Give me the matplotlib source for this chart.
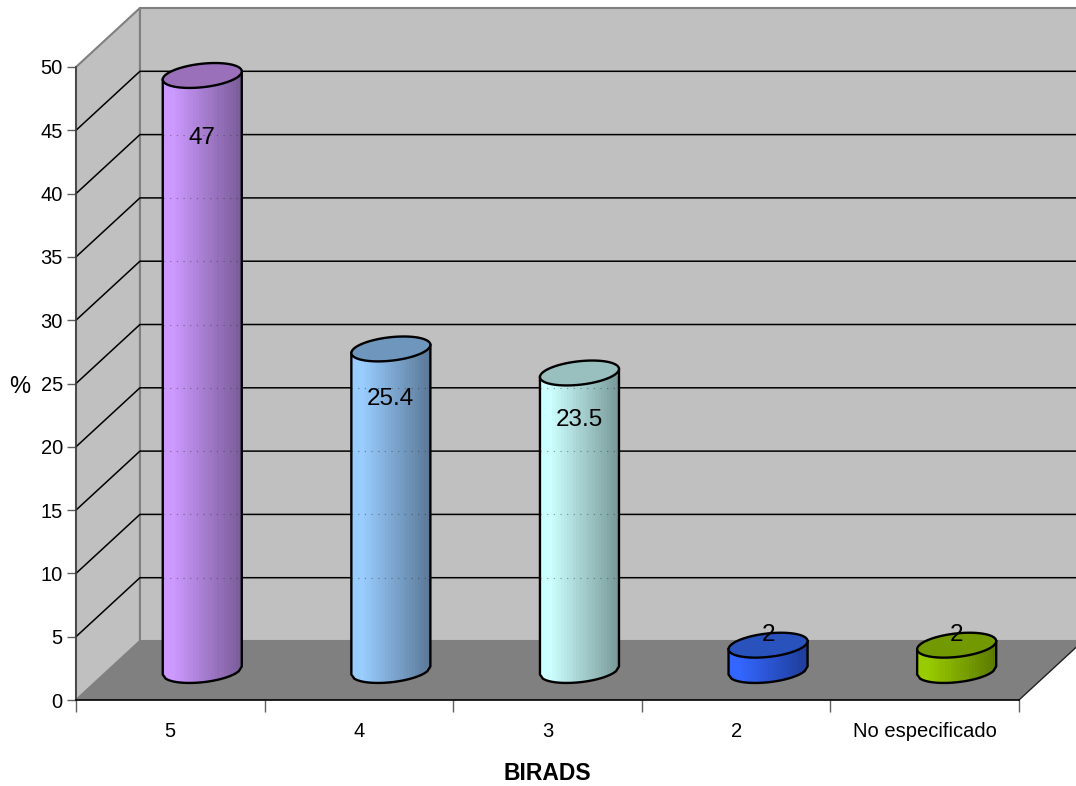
import numpy as np
import matplotlib
matplotlib.use("Agg")
import matplotlib.pyplot as plt

plt.rcParams['font.family'] = ['Liberation Sans', 'DejaVu Sans']

# Datos BIRADS
categorias = ['5', '4', '3', '2', 'No especificado']
porcentajes = [47, 25.4, 23.5, 2, 2]
etiquetas = ['47', '25.4', '23.5', '2', '2']
posicion_etiquetas = [44.4, 23.75, 22.15, 5.15, 5.15]
ticks_y = [0, 5, 10, 15, 20, 25, 30, 35, 40, 45, 50]

# Colores de cada cilindro: claro, oscuro, tapa
colores_claros = ['#cc99ff', '#99ccff', '#ccffff', '#3366ff', '#99cc00']
colores_oscuros = ['#7a5c99', '#5c7a99', '#7a9999', '#1f3d99', '#5c7a00']
colores_tapa = ['#9a70bb', '#6f96bd', '#99bfbf', '#2a52bd', '#739900']

# Profundidad de la caja 3D y forma del cilindro, en unidades de datos
prof_x = 0.339
prof_y = 4.66
radio = 0.2095
semi_y = 0.93
incl = 0.32

fig = plt.figure(figsize=(10.76, 7.86), dpi=100)
ax = fig.add_axes([76 / 1076, 86 / 786, 943 / 1076, 633 / 786])
ax.set_xlim(0, len(categorias))
ax.set_ylim(0, 50)
ax.patch.set_visible(False)

# Caja: pared izquierda, pared de fondo y piso
n = len(categorias)
ax.fill([0, prof_x, prof_x, 0], [0, prof_y, 50 + prof_y, 50],
        facecolor='#c0c0c0', edgecolor='#808080', lw=1.5, clip_on=False, zorder=1)
ax.fill([prof_x, n + prof_x, n + prof_x, prof_x], [prof_y, prof_y, 50 + prof_y, 50 + prof_y],
        facecolor='#c0c0c0', edgecolor='#808080', lw=1.5, clip_on=False, zorder=1)
ax.fill([0, prof_x, n + prof_x, n], [0, prof_y, prof_y, 0],
        facecolor='#808080', edgecolor='none', clip_on=False, zorder=2)
ax.plot([n, n + prof_x], [0, prof_y], color='#202020', lw=1, clip_on=False, zorder=2)

# Lineas de division sobre las paredes
for v in ticks_y[1:-1]:
    ax.plot([0, prof_x, n + prof_x], [v, v + prof_y, v + prof_y],
            color='black', lw=1.1, clip_on=False, zorder=3)


def hex_a_rgb(c):
    return np.array(matplotlib.colors.to_rgb(c))


# Cilindros
for i, valor in enumerate(porcentajes):
    cx = i + 0.5 + prof_x / 2
    y0 = prof_y / 2
    xs = np.linspace(cx - radio, cx + radio, 27)
    u = (xs - cx) / radio
    frente = -semi_y * np.sqrt(np.clip(1 - u ** 2, 0, 1)) + incl * u

    # Cara lateral con degradado horizontal por franjas
    X = np.vstack([xs, xs])
    Y = np.vstack([y0 + frente, y0 + valor + frente])
    mezcla = np.clip((np.arange(26) / 25 - 0.12) / 0.88, 0, 1)[:, None]
    rgb = hex_a_rgb(colores_claros[i]) * (1 - mezcla) + hex_a_rgb(colores_oscuros[i]) * mezcla
    ax.pcolormesh(X, Y, rgb[None, :, :], shading='flat', clip_on=False, zorder=4,
                  antialiased=False)

    # Lineas de division punteadas a traves del cilindro
    for v in ticks_y[1:-1]:
        if v + prof_y < y0 + valor - incl:
            ax.plot([cx - radio, cx + radio], [v + prof_y, v + prof_y], color='#303030',
                    lw=0.8, ls=(0, (1, 5)), alpha=0.5, clip_on=False, zorder=4.5)

    # Contorno lateral e inferior
    ax.plot(np.r_[xs[0], xs, xs[-1]],
            np.r_[y0 + valor + frente[0], y0 + frente, y0 + valor + frente[-1]],
            color='black', lw=1.7, clip_on=False, zorder=5, solid_joinstyle='round')

    # Tapa superior
    t = np.linspace(0, 2 * np.pi, 120)
    ax.fill(cx + radio * np.cos(t),
            y0 + valor + semi_y * np.sin(t) + incl * np.cos(t),
            facecolor=colores_tapa[i], edgecolor='black', lw=1.7, clip_on=False, zorder=6)

    # Valor del cilindro
    ax.text(cx, posicion_etiquetas[i], etiquetas[i], ha='center', va='center',
            fontsize=17.5, color='black', zorder=7)

# Ejes
centros = np.arange(n) + 0.5
ax.set_xticks(np.arange(n + 1))
ax.set_xticklabels([])
ax.set_xticks(centros, minor=True)
ax.set_xticklabels(categorias, minor=True)
ax.tick_params(axis='x', which='major', length=8.5, width=1, color='#606060')
ax.tick_params(axis='x', which='minor', length=0, pad=16, labelsize=14.5)
ax.set_yticks(ticks_y)
ax.tick_params(axis='y', length=6.5, width=1, color='#606060', pad=3, labelsize=14.5)

for lado in ['top', 'right']:
    ax.spines[lado].set_visible(False)
ax.spines['left'].set_color('#404040')
ax.spines['bottom'].set_color('black')
ax.spines['left'].set_linewidth(1.2)
ax.spines['bottom'].set_linewidth(1.2)
ax.spines['left'].set_zorder(8)
ax.spines['bottom'].set_zorder(8)

fig.text(20 / 1076, 1 - 387 / 786, '%', ha='center', va='center', fontsize=17)
fig.text(547 / 1076, 1 - 773 / 786, 'BIRADS', ha='center', va='center',
         fontsize=16.5, fontweight='bold')

fig.savefig('out.png', dpi=100)
